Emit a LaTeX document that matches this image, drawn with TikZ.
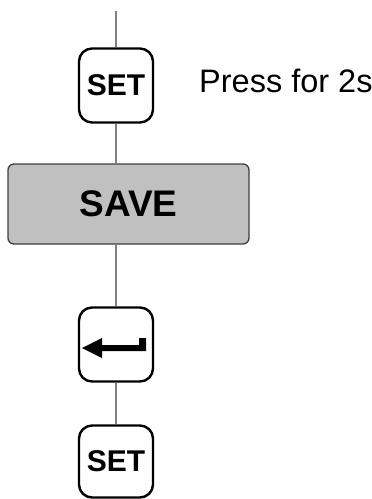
\documentclass[tikz,border=0pt]{standalone}
\usepackage{fontspec}
\setmainfont{Liberation Sans}
\usepackage{xcolor}
\definecolor{wire}{HTML}{808080}
\definecolor{panel}{HTML}{C0C0C0}
\definecolor{panelline}{HTML}{404040}

\begin{document}
\begin{tikzpicture}[x=1pt, y=-1pt,
    key/.style={draw, line width=2.4pt, rounded corners=13pt,
        minimum width=74pt, inner sep=0pt, font=\fontsize{30}{31}\selectfont\bfseries},
    stage/.style={draw=panelline, fill=panel, line width=1.3pt, rounded corners=6pt,
        minimum width=241pt, minimum height=80pt, inner sep=0pt,
        font=\fontsize{37}{38}\selectfont\bfseries},
    wire/.style={draw=wire, line width=1.8pt}]
    \useasboundingbox (0,0) rectangle (372,499);
    \def\xc{116}

    % --- Entry line from above ---
    \coordinate (top) at (\xc,11);

    % --- Keys and stage along the sequence ---
    \node[key, minimum height=74pt] (set1) at (\xc,85.5) {SET};
    \node[stage] (save) at (128.5,204) {SAVE};
    \node[key, minimum height=74pt] (enter) at (\xc,344.5) {};
    \node[key, minimum height=72pt] (set2) at (\xc,461.5) {SET};

    % --- Connectors ---
    \draw[wire] (top) -- (set1);
    \draw[wire] (set1) -- (\xc,|-save.north);
    \draw[wire] (\xc,|-save.south) -- (enter);
    \draw[wire] (enter) -- (set2);

    % --- Return arrow symbol inside the key ---
    \begin{scope}[shift={(enter.center)}]
        \fill (-34,3.5) -- (-14,-6.5) -- (-14,0.5) -- (23,0.5) -- (23,-6.5)
            -- (30,-6.5) -- (30,6.5) -- (-14,6.5) -- (-14,13.5) -- cycle;
    \end{scope}

    % --- Hint next to the first key ---
    \node[anchor=base west, inner sep=0pt, font=\fontsize{32.5}{33}\selectfont]
        (hint) at (199,92) {Press for 2s};
\end{tikzpicture}
\end{document}
